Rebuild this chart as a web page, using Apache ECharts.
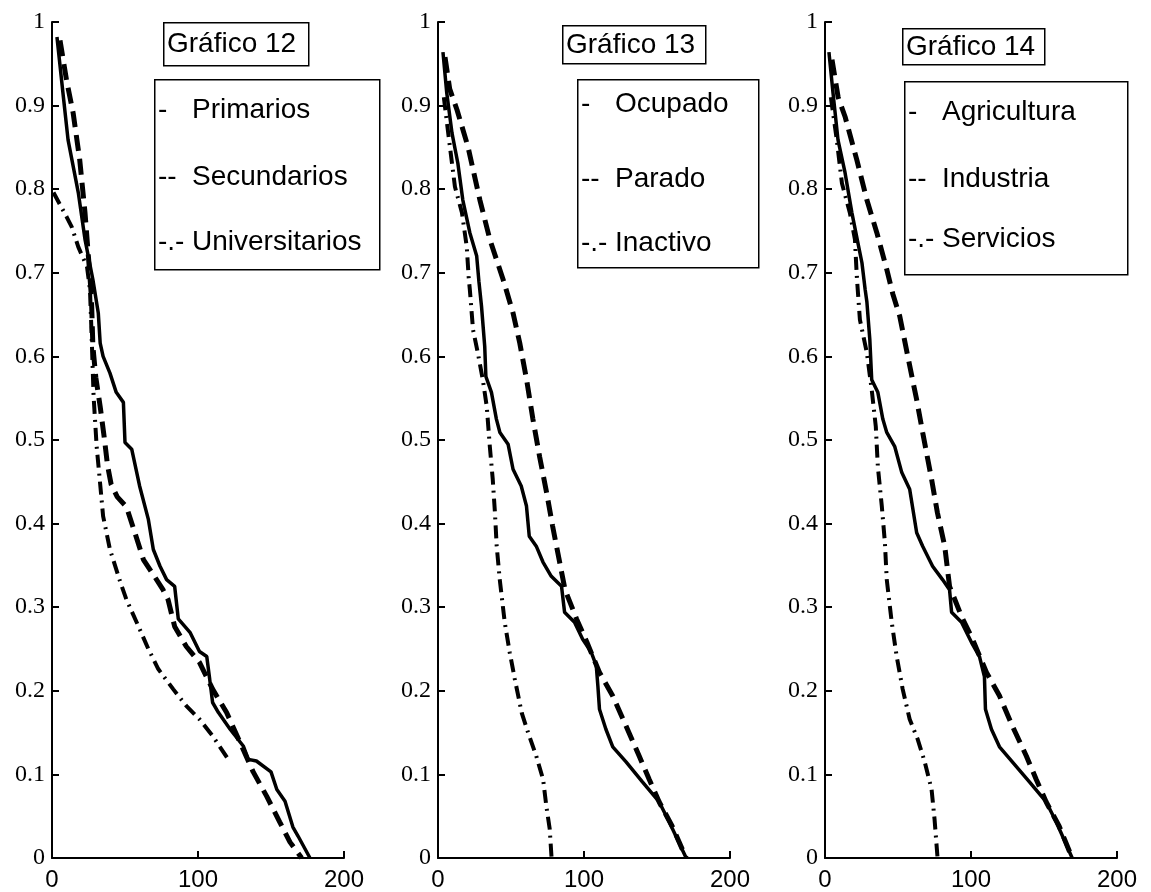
<!DOCTYPE html>
<html>
<head>
<meta charset="utf-8">
<script src="https://cdn.jsdelivr.net/npm/echarts@6/dist/echarts.min.js"></script>
<style>
  html, body { margin: 0; padding: 0; background: #fff; }
  #chart { width: 1151px; height: 892px; }
</style>
</head>
<body>
<div id="chart"></div>
<script>
// ---- data: [x, proportion] ----
var titles = ['Gráfico 12', 'Gráfico 13', 'Gráfico 14'];
var legendNames = [
    ['Primarios', 'Secundarios', 'Universitarios'],
    ['Ocupado', 'Parado', 'Inactivo'],
    ['Agricultura', 'Industria', 'Servicios']
];
var legendMarks = ['-', '--', '-.-'];
var xTicks = [0, 100, 200];

// Gráfico 12
var primarios = [[3.4,0.982],[7.5,0.915],[11,0.859],[18,0.796],[22.6,0.74],[28,0.692],[31.7,0.652],[33,0.616],[35,0.6],
    [39.7,0.58],[44,0.557],[48.9,0.545],[50,0.497],[54.6,0.489],[60,0.445],[66,0.405],[69.4,0.369],[74,0.349],
    [78.5,0.333],[84,0.325],[86.5,0.286],[94.5,0.27],[101,0.247],[106,0.241],[108,0.214],[110,0.186],[114,0.174],
    [122,0.154],[131,0.134],[134.5,0.118],[140,0.116],[150,0.103],[154,0.082],[159.6,0.068],[165,0.037],
    [168.6,0.026],[176.7,0]];
var secundarios = [[5.5,0.978],[10,0.93],[14.5,0.891],[19,0.835],[22.6,0.772],[25.5,0.707],[27,0.671],[28,0.612],
    [30,0.575],[33,0.54],[36,0.5],[38,0.47],[40.5,0.447],[44.7,0.432],[51,0.42],[56.6,0.39],[62.6,0.357],
    [70.5,0.336],[76,0.321],[79.5,0.309],[84,0.277],[92,0.253],[101,0.234],[110,0.202],[119.6,0.174],
    [128.6,0.139],[137.8,0.103],[147,0.074],[156,0.043],[163,0.019],[171,0]];
var universitarios = [[1,0.796],[10,0.767],[13.5,0.755],[18,0.731],[24,0.707],[26,0.68],[27,0.632],[28.5,0.552],
    [30.6,0.492],[32.9,0.449],[35,0.409],[39.7,0.369],[46.6,0.331],[51,0.309],[60,0.274],[66,0.25],[72.8,0.226],
    [83,0.202],[92,0.182],[101,0.166],[110,0.146],[120.7,0.118]];

// Gráfico 13
var ocupado = [[3.4,0.964],[6,0.915],[9.6,0.867],[13.6,0.831],[17,0.787],[21.8,0.748],[26.5,0.72],[28,0.69],
    [29.8,0.66],[32,0.612],[32.8,0.576],[36.6,0.557],[40,0.525],[42.4,0.509],[48,0.495],[51.4,0.465],[57,0.445],
    [60.6,0.421],[62.5,0.385],[67.3,0.373],[71.9,0.354],[77.6,0.337],[84.6,0.325],[86.7,0.294],[93.5,0.282],
    [99,0.262],[105,0.246],[108.4,0.23],[109.5,0.206],[110.6,0.178],[115,0.154],[119.7,0.133],[128.8,0.115],
    [140,0.091],[151.5,0.067],[158.4,0.043],[170,0]];
var parado = [[4.8,0.958],[8,0.92],[13,0.895],[20.5,0.851],[28.7,0.787],[35.5,0.74],[44.6,0.692],[51.4,0.652],
    [56,0.616],[60.7,0.572],[65,0.525],[69.6,0.48],[74.4,0.437],[78.5,0.397],[83.3,0.354],[87,0.321],
    [94.9,0.286],[102,0.258],[110.6,0.222],[119.6,0.194],[128.8,0.158],[137.8,0.122],[144.7,0.094],
    [151.5,0.067],[160.4,0.038],[170,0]];
var inactivo = [[4,0.91],[7.5,0.86],[11.6,0.803],[16.4,0.772],[19.7,0.731],[21,0.695],[21.8,0.68],[24,0.632],
    [27.3,0.604],[30.7,0.572],[33.4,0.54],[35.5,0.492],[37.5,0.453],[39,0.413],[40.2,0.373],[42.3,0.333],
    [45.7,0.282],[49.1,0.246],[52.6,0.214],[57.3,0.174],[61.7,0.15],[67.3,0.122],[72,0.094],[74.2,0.062],
    [76.5,0.035],[77.8,0]];

// Gráfico 14
var agricultura = [[2.7,0.964],[5.5,0.915],[8.9,0.859],[13.7,0.82],[18.4,0.772],[22.5,0.736],[25.3,0.712],
    [27.5,0.68],[28.7,0.665],[30.7,0.62],[32,0.572],[36.2,0.557],[39.6,0.525],[42.3,0.509],[47.8,0.492],
    [52.6,0.461],[58,0.441],[62.8,0.389],[66.9,0.373],[73.7,0.349],[80.5,0.333],[85.3,0.321],[86.7,0.294],
    [93.5,0.282],[100.3,0.258],[105.8,0.241],[109.2,0.217],[109.9,0.178],[114,0.154],[119.5,0.133],
    [128.3,0.115],[140,0.091],[151.5,0.067],[158.4,0.043],[169.3,0]];
var industria = [[4.8,0.955],[9,0.91],[13.7,0.887],[21.8,0.835],[28.7,0.787],[35.5,0.748],[42.3,0.704],
    [46.4,0.675],[51.2,0.648],[56.7,0.6],[62.8,0.548],[66.9,0.509],[73,0.453],[77,0.413],[82,0.373],
    [85.3,0.325],[93.5,0.289],[101,0.262],[110.6,0.222],[119.5,0.194],[128.3,0.158],[137.9,0.122],
    [144.7,0.094],[151.5,0.067],[160.4,0.038],[169.3,0]];
var servicios = [[4,0.91],[8,0.86],[11.6,0.807],[17,0.772],[20.5,0.74],[21.8,0.695],[23.9,0.644],[28.7,0.604],
    [32,0.56],[34.8,0.516],[36.2,0.468],[38.9,0.421],[41,0.378],[42.3,0.333],[45.7,0.282],[49.1,0.241],
    [53.2,0.202],[58,0.166],[63.5,0.142],[68.3,0.115],[73,0.082],[75,0.047],[77.1,0]];

var panelData = [
    [primarios, secundarios, universitarios],
    [ocupado, parado, inactivo],
    [agricultura, industria, servicios]
];

// ---- layout ----
var gridLefts = [52, 438, 825];
var gridWidth = 292;
var gridTop = 22, gridHeight = 837;
var titleBoxes = [[163, 22, 145, 43], [562, 25, 143, 38], [902, 28, 142, 36]];
var legendBoxes = [[154, 79, 225, 190], [577, 79, 181, 188], [904, 81, 223, 193]];
var rowY = [[108, 175, 240], [102, 177, 241], [110, 177, 237]];

var lineStyles = [
    { color: '#000', width: 3.5, type: 'solid' },
    { color: '#000', width: 5, type: [16, 8] },
    { color: '#000', width: 4, type: [13, 6, 2, 6] }
];

var chart = echarts.init(document.getElementById('chart'), null, { renderer: 'canvas' });

var grids = [], xAxes = [], yAxes = [], series = [], graphics = [];

gridLefts.forEach(function(left, i) {
    grids.push({ left: left, top: gridTop, width: gridWidth, height: gridHeight, containLabel: false });
    xAxes.push({
        type: 'value', gridIndex: i, min: xTicks[0], max: xTicks[xTicks.length - 1], interval: 100,
        axisLine: { show: true, onZero: false, lineStyle: { color: '#000', width: 2 } },
        axisTick: { show: true, inside: true, length: 7, lineStyle: { color: '#000', width: 2 } },
        axisLabel: { color: '#000', fontFamily: 'Liberation Sans', fontSize: 24, margin: 10 },
        splitLine: { show: false }
    });
    yAxes.push({
        type: 'value', gridIndex: i, min: 0, max: 1, interval: 0.1,
        axisLine: { show: true, onZero: false, lineStyle: { color: '#000', width: 2 } },
        axisTick: { show: true, inside: true, length: 7, lineStyle: { color: '#000', width: 2 } },
        axisLabel: { color: '#000', fontFamily: 'Liberation Serif', fontSize: 24, margin: 7 },
        splitLine: { show: false }
    });
    panelData[i].forEach(function(d, k) {
        series.push({
            type: 'line', name: legendNames[i][k], xAxisIndex: i, yAxisIndex: i,
            data: d, showSymbol: false, symbol: 'none', silent: true,
            lineStyle: lineStyles[k]
        });
    });

    var tb = titleBoxes[i];
    graphics.push({
        type: 'rect', left: tb[0], top: tb[1], z: 100,
        shape: { width: tb[2], height: tb[3] },
        style: { fill: '#fff', stroke: '#000', lineWidth: 1.5 }
    });
    graphics.push({
        type: 'text', left: tb[0] + 4, top: tb[1] + tb[3] / 2 - 13, z: 101,
        style: { text: titles[i], font: '28px "Liberation Sans"', fill: '#000' }
    });

    var lb = legendBoxes[i];
    graphics.push({
        type: 'rect', left: lb[0], top: lb[1], z: 100,
        shape: { width: lb[2], height: lb[3] },
        style: { fill: '#fff', stroke: '#000', lineWidth: 1.5 }
    });
    legendNames[i].forEach(function(name, k) {
        graphics.push({
            type: 'text', left: lb[0] + 4, top: rowY[i][k] - 12, z: 101,
            style: { text: legendMarks[k], font: '28px "Liberation Sans"', fill: '#000' }
        });
        graphics.push({
            type: 'text', left: lb[0] + 38, top: rowY[i][k] - 12, z: 101,
            style: { text: name, font: '28px "Liberation Sans"', fill: '#000' }
        });
    });
});

chart.setOption({
    animation: false,
    backgroundColor: '#fff',
    grid: grids,
    xAxis: xAxes,
    yAxis: yAxes,
    series: series,
    graphic: graphics
});
</script>
</body>
</html>
